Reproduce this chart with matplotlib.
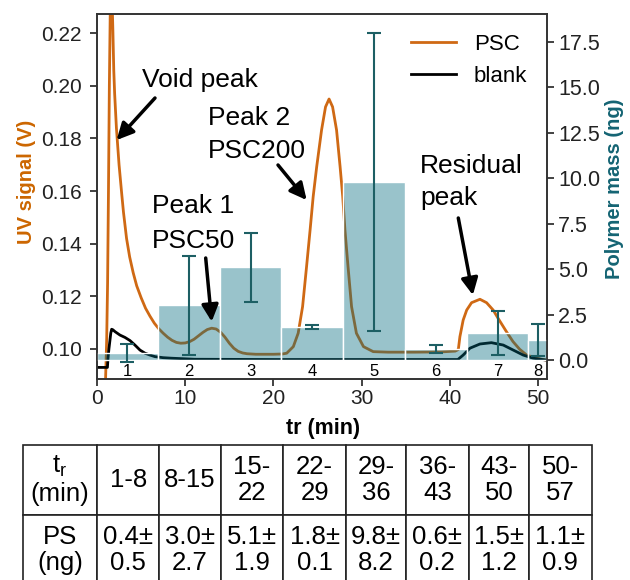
import matplotlib
matplotlib.use('Agg')
import matplotlib.pyplot as plt
from matplotlib.ticker import FormatStrFormatter

plt.rcParams['font.family'] = ['Liberation Sans', 'DejaVu Sans']
plt.rcParams['mathtext.fontset'] = 'custom'
plt.rcParams['mathtext.rm'] = 'Liberation Sans'
plt.rcParams['mathtext.it'] = 'Liberation Sans:italic'

# ---------------- data ----------------
psc_time = [0.0, 0.95, 1.1, 1.2, 1.3, 1.4, 1.5, 1.6, 1.7, 1.8, 1.9, 2.0, 2.2, 2.5, 2.8,
            3.0, 3.35, 3.7, 4.1, 4.5, 5.0, 5.5, 6.0, 6.5, 7.0, 7.5, 8.0, 8.5, 9.0, 9.5,
            10.0, 10.5, 11.0, 11.5, 12.0, 12.5, 13.0, 13.5, 14.0, 14.5, 15.0, 15.5, 16.0,
            16.5, 17.0, 18.0, 20.0, 21.0, 21.5, 22.25, 22.8, 23.3, 23.75, 24.15, 24.5,
            24.9, 25.45, 25.9, 26.3, 26.7, 27.15, 27.55, 27.85, 28.1, 28.45, 28.85, 29.4,
            30.2, 31.3, 33.0, 36.0, 39.0, 40.6, 40.95, 41.13, 41.5, 41.9, 42.45, 43.4,
            44.15, 44.9, 45.45, 46.4, 47.15, 47.9, 48.7, 49.8, 50.9, 51.0]
psc_signal = [0.086, 0.086, 0.104, 0.125, 0.160, 0.200, 0.228, 0.238, 0.234, 0.221, 0.206,
              0.197, 0.184, 0.170, 0.159, 0.152, 0.142, 0.135, 0.129, 0.124, 0.1195, 0.1155,
              0.1125, 0.1098, 0.1077, 0.106, 0.1045, 0.1033, 0.1025, 0.1022, 0.1023, 0.1028,
              0.1037, 0.105, 0.1063, 0.1074, 0.1079, 0.1076, 0.1064, 0.1045, 0.1022, 0.1003,
              0.0991, 0.0985, 0.0982, 0.098, 0.098, 0.0981, 0.0984, 0.1009, 0.106, 0.1161,
              0.1313, 0.1452, 0.1579, 0.1693, 0.1832, 0.192, 0.195, 0.192, 0.1832, 0.1693,
              0.1579, 0.1452, 0.1313, 0.1161, 0.106, 0.1009, 0.0990, 0.0988, 0.0988, 0.0989,
              0.0992, 0.0998, 0.1047, 0.111, 0.1148, 0.1176, 0.1189, 0.1176, 0.1148, 0.1117,
              0.1066, 0.1028, 0.0999, 0.0977, 0.0965, 0.0958, 0.0958]

blank_time = [0.0, 1.18, 1.25, 1.35, 1.47, 1.56, 1.66, 1.8, 2.04, 2.6, 3.17, 3.74, 4.3,
              4.87, 5.44, 6.0, 6.57, 7.5, 8.46, 11.1, 20.0, 30.0, 40.9, 41.5, 42.26, 43.4,
              44.7, 46.04, 47.17, 48.3, 49.43, 50.87, 51.0]
blank_signal = [0.0930, 0.0930, 0.0965, 0.1000, 0.1034, 0.1060, 0.1075, 0.1073, 0.1066,
                0.1053, 0.1044, 0.1032, 0.1015, 0.0996, 0.0984, 0.0977, 0.0971, 0.0967,
                0.0965, 0.0961, 0.0960, 0.0960, 0.0960, 0.0977, 0.1003, 0.1019, 0.1024,
                0.1015, 0.0996, 0.0977, 0.0965, 0.0958, 0.0958]

bin_labels = ['1', '2', '3', '4', '5', '6', '7', '8']
bin_start = [0.0, 6.9, 13.9, 20.9, 27.9, 34.9, 41.9, 48.9]
bin_end = [6.9, 13.9, 20.9, 27.9, 34.9, 41.9, 48.9, 51.0]
mass = [0.4, 3.0, 5.1, 1.8, 9.8, 0.6, 1.5, 1.1]
mass_err = [0.5, 2.7, 1.9, 0.1, 8.2, 0.2, 1.2, 0.9]
table_ranges = ['1-8', '8-15', '15-\n22', '22-\n29', '29-\n36', '36-\n43', '43-\n50', '50-\n57']

# ---------------- layout ----------------
W, H = 630, 580
L, R, T, B = 97, 547, 14, 379
ORANGE = '#cf6914'
TEAL_TXT = '#146473'
ERR = '#1d5f64'

fig = plt.figure(figsize=(W / 100, H / 100), dpi=100)
ax1 = fig.add_axes([L / W, 1 - B / H, (R - L) / W, (B - T) / H])
ax2 = ax1.twinx()


def afrac(xp, yp):
    return ((xp - L) / (R - L), (B - yp) / (B - T))


l_psc, = ax1.plot(psc_time, psc_signal, color=ORANGE, lw=2, label='PSC')
l_blank, = ax1.plot(blank_time, blank_signal, color='black', lw=2, label='blank')
ax1.set_xlim(0, 51)
ax1.set_ylim(0.0886, 0.2273)
ax2.set_ylim(-1.045, 19.02)

centers = [(a + b) / 2 for a, b in zip(bin_start, bin_end)]
widths = [b - a for a, b in zip(bin_start, bin_end)]
ax2.bar(bin_start, mass, width=widths, align='edge', color=(0.0, 0.41, 0.49, 0.4),
        edgecolor='white', linewidth=1)
ax2.errorbar(centers, mass, yerr=mass_err, fmt='none', ecolor=ERR, elinewidth=1.5,
             capsize=5, capthick=1.5)
for c, lab in zip(centers, bin_labels):
    ax2.text(c, -0.64, lab, ha='center', va='center', fontsize=12)

ax1.set_xticks([0, 10, 20, 30, 40, 50])
ax1.set_yticks([0.10, 0.12, 0.14, 0.16, 0.18, 0.20, 0.22])
ax2.set_yticks([0, 2.5, 5, 7.5, 10, 12.5, 15, 17.5])
ax1.yaxis.set_major_formatter(FormatStrFormatter('%.2f'))
ax2.yaxis.set_major_formatter(FormatStrFormatter('%.1f'))
ax1.tick_params(axis='y', labelsize=15, length=5, width=1.2, pad=6, colors='#222222')
ax1.tick_params(axis='x', labelsize=15, length=5, width=1.2, pad=2.5, colors='#222222')
ax2.tick_params(axis='y', labelsize=15.5, length=5, width=1.2, pad=3, colors='#222222')
for ax in (ax1, ax2):
    for s in ax.spines.values():
        s.set_color('#333333')
        s.set_linewidth(1.2)

ax1.set_xlabel('tr (min)', fontsize=15.5, fontweight='bold')
ax1.xaxis.set_label_coords(0.502, -0.107)
ax1.set_ylabel('UV signal (V)', color='#cc6600', fontsize=14.5, fontweight='bold', va='center')
ax1.yaxis.set_label_coords(-0.156, 0.54)
ax2.set_ylabel('Polymer mass (ng)', color=TEAL_TXT, fontsize=14.5, fontweight='bold',
               va='center', rotation=90)
ax2.yaxis.set_label_coords(1.151, 0.52)

ax2.legend(handles=[l_psc, l_blank], loc='upper right', frameon=False, fontsize=16)

# annotations: (lines with left x / baseline y in px), arrow tail px, arrow tip in data
annots = [
    (['Void peak'], 142, [87], (155, 98), (2.23, 0.1794)),
    (['Peak 2', 'PSC200'], 208, [125, 158], (278, 165), (23.76, 0.1566)),
    (['Peak 1', 'PSC50'], 152, [213, 248], (205.7, 258), (13.0, 0.1104)),
    (['Residual', 'peak'], 420, [173, 205], (458.3, 218), (42.6, 0.1205)),
]
for lines, xp, ys, tail, tip in annots:
    for txt, yp in zip(lines, ys):
        ax2.text(*afrac(xp, yp), txt, transform=ax2.transAxes, fontsize=19,
                 ha='left', va='baseline')
    ax2.annotate('', xy=tip, xycoords=ax1.transData, xytext=afrac(*tail),
                 textcoords='axes fraction',
                 arrowprops=dict(arrowstyle='-|>', color='black', lw=2.5,
                                 mutation_scale=25, shrinkA=0, shrinkB=0))

# ---------------- table ----------------
tax = fig.add_axes([22.7 / W, (H - 585) / H, 569 / W, 140 / H])
tax.axis('off')
header = ['$\\mathregular{t_r}$\n(min)'] + table_ranges
row2 = ['PS\n(ng)'] + [f'{m:.1f}\u00b1\n{e:.1f}' for m, e in zip(mass, mass_err)]
col_w = [74.6, 62, 61.4, 62.6, 62.7, 59.7, 63.3, 60, 62.7]
tbl = tax.table(cellText=[header, row2], colWidths=[w / sum(col_w) for w in col_w],
                cellLoc='center', bbox=[0, 0, 1, 1])
tbl.auto_set_font_size(False)
tbl.set_fontsize(18.5)
for cell in tbl.get_celld().values():
    cell.set_edgecolor('#222222')
    cell.set_linewidth(1.2)
    cell.get_text().set_linespacing(1.15)

fig.savefig('out.png', dpi=100)
